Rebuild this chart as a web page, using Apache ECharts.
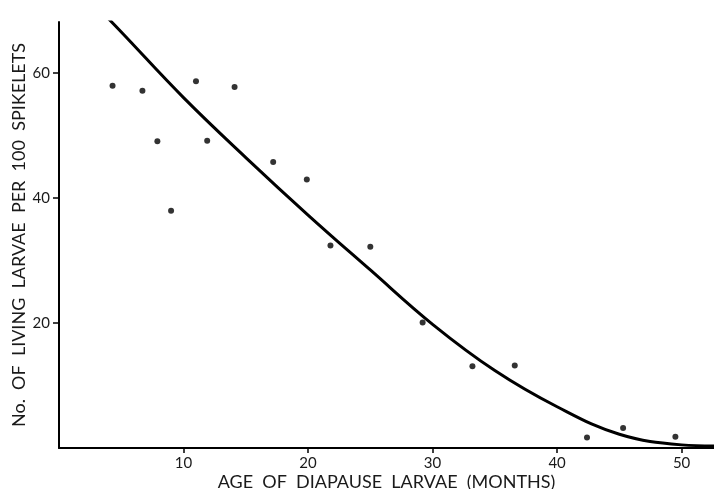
<!DOCTYPE html>
<html>
<head>
<meta charset="utf-8">
<script src="https://cdn.jsdelivr.net/npm/echarts@6/dist/echarts.min.js"></script>
<style>
  html, body { margin: 0; padding: 0; background: #fff; }
  #chart { width: 714px; height: 489px; }
</style>
</head>
<body>
<div id="chart"></div>
<script>
  // observed points (age in months, living larvae per 100 spikelets)
  const ageMonths = [4.3, 6.7, 7.9, 9.0, 11.0, 11.9, 14.1, 17.2, 19.9, 21.8, 25.0, 29.2, 33.2, 36.6, 42.4, 45.3, 49.5];
  const larvae    = [58.0, 57.2, 49.1, 38.0, 58.7, 49.2, 57.8, 45.8, 43.0, 32.4, 32.2, 20.1, 13.1, 13.2, 1.7, 3.2, 1.8];

  // fitted curve
  const curveX = [3.5, 5, 10, 15, 20, 25, 30, 35, 40, 45, 50, 53];
  const curveY = [69.7, 66.6, 56.1, 46.5, 37.3, 28.5, 19.8, 12.4, 6.6, 2.2, 0.5, 0.3];

  const xTicks = [10, 20, 30, 40, 50];
  const yTicks = [20, 40, 60];

  const txt = '#1a1a1a';
  const font = 'Lato';

  const chart = echarts.init(document.getElementById('chart'));
  chart.setOption({
    animation: false,
    grid: { left: 59, right: 0, top: 22, bottom: 41, outerBoundsMode: 'none', containLabel: false },
    xAxis: {
      type: 'value',
      min: 0,
      max: 52.6,
      name: 'AGE  OF  DIAPAUSE  LARVAE  (MONTHS)',
      nameLocation: 'middle',
      nameGap: 25,
      nameMoveOverlap: false,
      nameTextStyle: { color: txt, fontFamily: font, fontSize: 18 },
      axisLine: { lineStyle: { color: '#000', width: 2 } },
      axisTick: { show: true, length: 5, customValues: xTicks, lineStyle: { color: '#000', width: 1.5 } },
      axisLabel: { customValues: xTicks, color: txt, fontFamily: font, fontSize: 15, margin: 8 },
      splitLine: { show: false }
    },
    yAxis: {
      type: 'value',
      min: 0,
      max: 68.2,
      name: 'No.  OF  LIVING  LARVAE  PER  100  SPIKELETS',
      nameLocation: 'middle',
      nameGap: 31,
      nameMoveOverlap: false,
      nameTextStyle: { color: txt, fontFamily: font, fontSize: 18 },
      axisLine: { show: true, lineStyle: { color: '#000', width: 2 } },
      axisTick: { show: true, length: 6, customValues: yTicks, lineStyle: { color: '#000', width: 1.5 } },
      axisLabel: { customValues: yTicks, color: txt, fontFamily: font, fontSize: 15, margin: 9 },
      splitLine: { show: false }
    },
    series: [
      {
        type: 'line',
        data: curveX.map((x, i) => [x, curveY[i]]),
        smooth: 0.4,
        showSymbol: false,
        lineStyle: { color: '#000', width: 3 },
        clip: true
      },
      {
        type: 'scatter',
        data: ageMonths.map((x, i) => [x, larvae[i]]),
        symbolSize: 6,
        itemStyle: { color: '#000' }
      }
    ]
  });
</script>
</body>
</html>
